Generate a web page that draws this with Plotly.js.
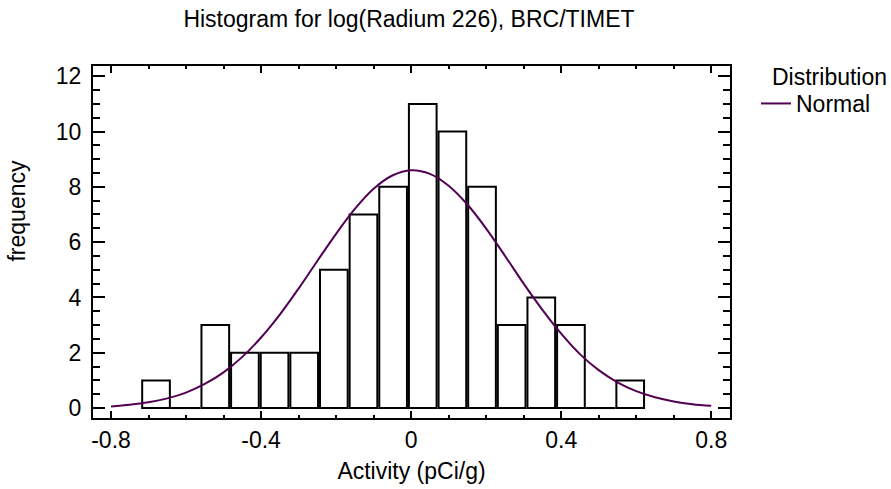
<!DOCTYPE html>
<html>
<head>
<meta charset="utf-8">
<script src="https://cdn.plot.ly/plotly-3.0.1.min.js"></script>
<style>html,body{margin:0;padding:0;background:#fff;}#chart{width:891px;height:489px;}</style>
</head>
<body>
<div id="chart"></div>
<script>
// Histogram bins (centers, pCi/g) and counts
var binCenters = [-0.680, -0.601, -0.522, -0.443, -0.364, -0.285, -0.206, -0.127, -0.048, 0.031, 0.110, 0.189, 0.268, 0.347, 0.426, 0.505, 0.584];
var binCounts  = [1, 0, 3, 2, 2, 2, 5, 7, 8, 11, 10, 8, 3, 4, 3, 0, 1];
var binWidth = 0.079;

// Fitted normal curve
var curveX = [-0.80,-0.75,-0.70,-0.65,-0.60,-0.55,-0.50,-0.45,-0.40,-0.35,-0.30,-0.25,-0.20,-0.15,-0.10,-0.05,0.00,0.05,0.10,0.15,0.20,0.25,0.30,0.35,0.40,0.45,0.50,0.55,0.60,0.65,0.70,0.75,0.80];
var curveY = [0.06,0.12,0.21,0.35,0.56,0.87,1.29,1.85,2.55,3.38,4.32,5.32,6.30,7.20,7.93,8.41,8.60,8.47,8.04,7.36,6.49,5.51,4.50,3.55,2.69,1.95,1.37,0.93,0.61,0.39,0.24,0.14,0.08];

var xTickVals = [-0.8, -0.4, 0, 0.4, 0.8];
var xTickText = ['-0.8', '-0.4', '0', '0.4', '0.8'];
var yTickVals = [0, 2, 4, 6, 8, 10, 12];

// zero-count bins drawn as a flat outline on the baseline
var zeroX = [], zeroY = [];
binCenters.forEach(function (c, i) {
  if (binCounts[i] === 0) {
    zeroX.push(c - binWidth / 2, c + binWidth / 2, null);
    zeroY.push(0, 0, null);
  }
});

var FONT = 'Liberation Sans, Arial, sans-serif';
var FS = 23;

var traces = [
  {
    type: 'bar',
    x: binCenters,
    y: binCounts,
    width: binWidth - 0.0052,
    marker: {color: '#ffffff', line: {color: '#000000', width: 2}},
    showlegend: false,
    hoverinfo: 'x+y'
  },
  {
    type: 'scatter',
    mode: 'lines',
    x: zeroX,
    y: zeroY,
    line: {color: '#000000', width: 2},
    showlegend: false,
    hoverinfo: 'skip'
  },
  {
    type: 'scatter',
    mode: 'lines',
    name: 'Normal',
    x: curveX,
    y: curveY,
    line: {color: '#520052', width: 2, shape: 'spline'}
  }
];

var layout = {
  width: 891,
  height: 489,
  paper_bgcolor: '#ffffff',
  plot_bgcolor: '#ffffff',
  margin: {l: 93, r: 161, t: 66, b: 71, pad: 0},
  font: {family: FONT, size: FS, color: '#000000'},
  title: {
    text: 'Histogram for log(Radium 226), BRC/TIMET',
    font: {family: FONT, size: FS, color: '#000000'},
    x: 0.459, xanchor: 'center', y: 0.962, yanchor: 'middle'
  },
  xaxis: {
    range: [-0.848, 0.85],
    tickmode: 'array', tickvals: xTickVals, ticktext: xTickText,
    ticks: 'inside', ticklen: 7, tickwidth: 2, tickcolor: '#000',
    minor: {dtick: 0.1, tick0: 0, ticks: 'inside', ticklen: 3, tickwidth: 2, tickcolor: '#000'},
    showline: true, linecolor: '#000', linewidth: 2, mirror: 'allticks',
    showgrid: false, zeroline: false,
    tickfont: {family: FONT, size: FS, color: '#000'},
    title: {text: 'Activity (pCi/g)', font: {family: FONT, size: FS, color: '#000'}, standoff: 11}
  },
  yaxis: {
    range: [-0.36, 12.37],
    tickmode: 'array', tickvals: yTickVals,
    ticks: 'inside', ticklen: 12, tickwidth: 2, tickcolor: '#000',
    minor: {dtick: 0.5, tick0: 0, ticks: 'inside', ticklen: 7, tickwidth: 2, tickcolor: '#000'},
    showline: true, linecolor: '#000', linewidth: 2, mirror: 'allticks',
    showgrid: false, zeroline: false,
    tickfont: {family: FONT, size: FS, color: '#000'},
    ticklabelstandoff: 5
  },
  annotations: [
    {
      text: 'frequency', textangle: -90,
      xref: 'paper', yref: 'paper', x: -0.119, y: 0.59,
      xanchor: 'center', yanchor: 'middle', showarrow: false,
      font: {family: FONT, size: FS, color: '#000'}
    },
    {
      text: 'Distribution',
      xref: 'paper', yref: 'paper', x: (770 - 93) / 637, y: (418 - 77) / 352,
      xanchor: 'left', yanchor: 'middle', showarrow: false,
      font: {family: FONT, size: FS, color: '#000'}
    }
  ],
  legend: {
    x: (756 - 93) / 637, xanchor: 'left', y: (418 - 82) / 352, yanchor: 'top',
    bgcolor: 'rgba(0,0,0,0)', borderwidth: 0,
    font: {family: FONT, size: FS, color: '#000'}
  },
  showlegend: true,
  bargap: 0
};

Plotly.newPlot('chart', traces, layout, {displayModeBar: false, staticPlot: true});
</script>
</body>
</html>
